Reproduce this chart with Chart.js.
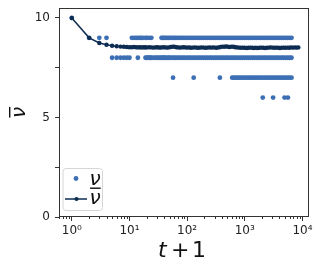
<!DOCTYPE html>
<html>
<head>
<meta charset="utf-8">
<script src="https://cdn.jsdelivr.net/npm/chart.js@4/dist/chart.umd.min.js"></script>
<style>
  html, body { margin: 0; padding: 0; background: #fff; }
  #wrap { width: 324px; height: 270px; }
</style>
</head>
<body>
<div id="wrap"><canvas id="chart" width="324" height="270"></canvas></div>
<script>
// nu samples (t+1 positions) grouped by value
const nu10 = [1];
const nu9 = [2, 3, 4, 11, 12, 13, 14, 15, 16, 17, 19, 20, 22, 24,
  36, 38, 40, 42, 45, 48, 51, 55, 59, 63, 68, 73, 79, 85, 92, 100, 108, 117, 127, 138,
  150, 163, 177, 192, 208, 226, 245, 266, 289, 313, 340, 369, 400, 434, 471, 511, 555,
  602, 653, 709, 769, 835, 906, 983, 1070, 1160, 1260, 1370, 1480, 1610, 1750, 1900,
  2060, 2230, 2420, 2630, 2850, 3100, 3360, 3650, 3960, 4300, 4660, 5060, 5490, 5960, 6470];
const nu8 = [5, 6, 7, 8, 9, 10, 14, 19, 20, 21, 22, 23, 24, 26, 28, 30, 32, 34, 36, 38,
  40, 42, 45, 48, 51, 55, 59, 63, 68, 73, 79, 85, 92, 100, 108, 117, 127, 138,
  150, 163, 177, 192, 208, 226, 245, 266, 289, 313, 340, 369, 400, 434, 471, 511, 555,
  602, 653, 709, 769, 835, 906, 983, 1070, 1160, 1260, 1370, 1480, 1610, 1750, 1900,
  2060, 2230, 2420, 2630, 2850, 3100, 3360, 3650, 3960, 4300, 4660, 5060, 5490, 5960, 6470];
const nu7 = [57, 130, 370, 605, 650, 700, 755, 815, 880, 950, 1030, 1110, 1200, 1300,
  1400, 1510, 1630, 1760, 1900, 2060, 2230, 2420, 2630, 2850, 3100, 3360, 3650, 3960,
  4300, 4660, 5060, 5490, 5960, 6470];
const nu6 = [2050, 3100, 4900, 5600];

// running mean nu-bar: [t+1, value]
const nuBar = [[1, 10], [2, 9], [3, 8.74], [4, 8.65], [5, 8.6], [6, 8.58], [7, 8.56],
  [8, 8.55], [9, 8.54], [10, 8.53], [11, 8.53], [12, 8.54], [13, 8.53], [14, 8.52],
  [15, 8.53], [16, 8.52], [17, 8.52], [18, 8.53], [19, 8.52], [20, 8.52], [22, 8.53],
  [24, 8.52], [26, 8.51], [28, 8.52], [30, 8.53], [32, 8.52], [34, 8.51], [36, 8.52],
  [39, 8.53], [42, 8.52], [45, 8.51], [48, 8.52], [52, 8.54], [56, 8.56], [60, 8.55],
  [65, 8.53], [70, 8.52], [75, 8.51], [81, 8.52], [87, 8.53], [94, 8.52], [100, 8.51],
  [108, 8.52], [116, 8.5], [125, 8.51], [135, 8.52], [145, 8.51], [156, 8.5], [168, 8.51],
  [181, 8.52], [195, 8.51], [210, 8.5], [226, 8.51], [243, 8.52], [262, 8.51], [282, 8.52],
  [304, 8.51], [327, 8.5], [352, 8.52], [379, 8.54], [408, 8.56], [440, 8.55], [474, 8.57],
  [510, 8.55], [549, 8.54], [591, 8.56], [637, 8.55], [686, 8.53], [739, 8.52], [796, 8.51],
  [857, 8.5], [923, 8.51], [994, 8.5], [1070, 8.49], [1150, 8.5], [1240, 8.51], [1340, 8.5],
  [1440, 8.49], [1550, 8.5], [1670, 8.49], [1800, 8.5], [1940, 8.51], [2090, 8.5],
  [2250, 8.49], [2420, 8.5], [2610, 8.51], [2810, 8.52], [3030, 8.51], [3260, 8.5],
  [3510, 8.51], [3780, 8.5], [4070, 8.49], [4390, 8.5], [4720, 8.51], [5090, 8.5],
  [5480, 8.51], [5900, 8.5], [6360, 8.52], [6850, 8.51], [7380, 8.52], [7950, 8.51], [8500, 8.52]];

const xTickVals = [1, 10, 100, 1000, 10000];
const xTickLabels = ['10⁰', '10¹', '10²', '10³', '10⁴'];
const yTickVals = [0, 2.5, 5, 7.5, 10];
const yTickLabels = ['0', '', '5', '', '10'];

const DOT = '#3d6fb4';
const NAVY = '#0d2c52';
const AXIS = '#333333';
const FONT = 'DejaVu Sans';

function pts(list, v) {
  return list.map(t => ({ x: t, y: v }));
}

const nuPoints = [].concat(pts(nu10, 10), pts(nu9, 9), pts(nu8, 8), pts(nu7, 7), pts(nu6, 6));

// draws the nu glyph with an overline, baseline at (x, y) in current transform
function nuBarText(ctx, x, y, size) {
  ctx.font = 'italic ' + size + 'px "' + FONT + '"';
  ctx.textAlign = 'left';
  ctx.textBaseline = 'alphabetic';
  ctx.fillText('ν', x, y);
  const w = ctx.measureText('ν').width;
  ctx.fillRect(x + 0.5, y - size * 0.8, w - 0.5, 1.4);
}

const decor = {
  id: 'decor',
  afterDraw(chart) {
    const ctx = chart.ctx;
    const a = chart.chartArea;
    const xs = chart.scales.x;
    ctx.save();

    // frame
    ctx.strokeStyle = AXIS;
    ctx.lineWidth = 1;
    const l = Math.round(a.left) + 0.5, t = Math.round(a.top) + 0.5;
    const r = Math.round(a.right) - 0.5, b = Math.round(a.bottom) - 0.5;
    ctx.strokeRect(l, t, r - l, b - t);

    // minor log ticks
    ctx.beginPath();
    for (let k = -1; k <= 4; k++) {
      for (let m = 2; m <= 9; m++) {
        const v = m * Math.pow(10, k);
        if (v < xs.min || v > xs.max) continue;
        const px = Math.round(xs.getPixelForValue(v)) + 0.5;
        ctx.moveTo(px, b);
        ctx.lineTo(px, b + 2.5);
      }
    }
    ctx.stroke();

    // y title (rotated nu-bar)
    ctx.fillStyle = '#111';
    ctx.save();
    ctx.translate(25, 112.5);
    ctx.rotate(-Math.PI / 2);
    ctx.font = 'italic 20px "' + FONT + '"';
    const yw = ctx.measureText('ν').width;
    ctx.translate(-yw / 2, 0);
    nuBarText(ctx, 0, 0, 20);
    ctx.restore();

    // x title: t + 1
    ctx.font = 'italic 22px "' + FONT + '"';
    ctx.textAlign = 'left';
    ctx.textBaseline = 'alphabetic';
    ctx.fillText('t', 158, 257);
    ctx.font = '22px "' + FONT + '"';
    ctx.fillText('+', 171, 257);
    ctx.fillText('1', 192, 257);

    // legend
    const lx = 63, ly = 168.5, lw = 39.5, lh = 42;
    ctx.beginPath();
    ctx.roundRect(lx, ly, lw, lh, 3);
    ctx.fillStyle = 'rgba(255,255,255,0.8)';
    ctx.fill();
    ctx.strokeStyle = '#d6d6d6';
    ctx.stroke();

    ctx.fillStyle = DOT;
    ctx.beginPath();
    ctx.arc(76, 178.5, 2.4, 0, Math.PI * 2);
    ctx.fill();
    ctx.fillStyle = '#111';
    ctx.font = 'italic 20px "' + FONT + '"';
    ctx.fillText('ν', 89.5, 184.5);

    ctx.strokeStyle = NAVY;
    ctx.lineWidth = 1.5;
    ctx.beginPath();
    ctx.moveTo(65, 199);
    ctx.lineTo(87, 199);
    ctx.stroke();
    ctx.fillStyle = NAVY;
    ctx.beginPath();
    ctx.arc(76.5, 199, 2.1, 0, Math.PI * 2);
    ctx.fill();
    ctx.fillStyle = '#111';
    nuBarText(ctx, 89.5, 203.5, 20);

    ctx.restore();
  }
};

new Chart(document.getElementById('chart'), {
  type: 'scatter',
  data: {
    datasets: [
      {
        label: 'ν',
        data: nuPoints,
        backgroundColor: DOT,
        borderWidth: 0,
        pointRadius: 2.4,
        showLine: false,
        order: 2
      },
      {
        label: 'ν̄',
        data: nuBar.map(p => ({ x: p[0], y: p[1] })),
        borderColor: NAVY,
        backgroundColor: NAVY,
        borderWidth: 1.5,
        pointRadius: 2.2,
        pointBorderWidth: 0,
        showLine: true,
        order: 1
      }
    ]
  },
  options: {
    responsive: false,
    animation: false,
    devicePixelRatio: 1,
    layout: { padding: { top: 8, right: 15, left: 0, bottom: 0 } },
    plugins: {
      legend: { display: false },
      tooltip: { enabled: false }
    },
    scales: {
      x: {
        type: 'logarithmic',
        min: 0.64,
        max: 13000,
        afterBuildTicks: s => { s.ticks = xTickVals.map(v => ({ value: v })); },
        afterFit: s => { s.height = 53; s.paddingLeft = 0; s.paddingRight = 0; },
        border: { display: false },
        grid: { drawOnChartArea: false, tickLength: 4, tickColor: AXIS, tickWidth: 1 },
        ticks: {
          autoSkip: false,
          maxRotation: 0,
          padding: 3,
          color: '#222',
          font: { family: FONT, size: 12 },
          callback: v => xTickLabels[xTickVals.indexOf(v)]
        }
      },
      y: {
        type: 'linear',
        min: 0,
        max: 10.5,
        afterBuildTicks: s => { s.ticks = yTickVals.map(v => ({ value: v })); },
        afterFit: s => { s.width = 59; s.paddingTop = 0; s.paddingBottom = 0; },
        border: { display: false },
        grid: { drawOnChartArea: false, tickLength: 4, tickColor: AXIS, tickWidth: 1 },
        ticks: {
          padding: 5,
          color: '#222',
          font: { family: FONT, size: 12 },
          callback: v => yTickLabels[yTickVals.indexOf(v)]
        }
      }
    }
  },
  plugins: [decor]
});
</script>
</body>
</html>
